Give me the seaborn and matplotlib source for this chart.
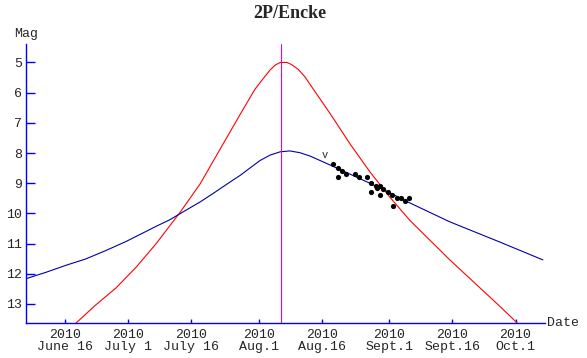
import numpy as np
import pandas as pd
import matplotlib
matplotlib.use('Agg')
import matplotlib.pyplot as plt
import seaborn as sns

# days counted from 2010 Aug 1, magnitudes
base = pd.Timestamp('2010-08-01')

blue_days = [-55.2, -50.5, -45.8, -41.1, -36.3, -31.5, -26.8, -24.4, -21.1, -18.7,
             -13.9, -10.4, -6.8, -4.4, -2.1, 0.3, 2.7, 5.1, 7.4, 9.8, 12.2, 14.6,
             17.0, 21.7, 26.4, 31.2, 34.8, 45.4, 57.3, 67.5]
blue_mag = [12.16, 11.95, 11.72, 11.51, 11.23, 10.93, 10.60, 10.43, 10.21, 10.01,
            9.62, 9.30, 8.96, 8.74, 8.50, 8.25, 8.07, 7.96, 7.93, 7.99, 8.10, 8.25,
            8.40, 8.70, 9.00, 9.32, 9.58, 10.28, 10.95, 11.54]

red_days = [-43.6, -38.6, -33.9, -29.1, -24.4, -18.7, -13.9, -9.2, -4.4, -0.9, 1.1,
            2.7, 3.9, 5.1, 6.7, 7.8, 9.4, 11.0, 13.0, 17.0, 21.7, 26.4, 31.2, 35.9,
            45.4, 57.3, 61.4]
red_mag = [13.66, 13.02, 12.47, 11.78, 11.01, 9.97, 9.02, 7.88, 6.72, 5.89, 5.53,
           5.25, 5.09, 5.00, 5.00, 5.07, 5.23, 5.48, 5.89, 6.70, 7.70, 8.62, 9.47, 10.23,
           11.54, 13.08, 13.63]

obs_days = [17.7, 18.8, 18.8, 19.7, 20.7, 22.9, 23.8, 25.7, 26.6, 26.6, 27.9, 28.0,
            28.8, 28.8, 29.6, 30.8, 31.7, 32.8, 33.7, 34.8, 35.7, 31.8]
obs_mag = [8.37, 8.48, 8.78, 8.58, 8.68, 8.68, 8.78, 8.78, 8.98, 9.28, 9.08, 9.17,
           9.08, 9.39, 9.18, 9.28, 9.38, 9.48, 9.48, 9.58, 9.48, 9.77]

v_day = 15.8
v_mag = 8.06
perihelion_day = 5.4

tick_dates = ['2010-06-16', '2010-07-01', '2010-07-16', '2010-08-01',
              '2010-08-16', '2010-09-01', '2010-09-16', '2010-10-01']
tick_labels = ['2010\nJune 16', '2010\nJuly 1', '2010\nJuly 16', '2010\nAug.1',
               '2010\nAug.16', '2010\nSept.1', '2010\nSept.16', '2010\nOct.1']
mag_ticks = [5, 6, 7, 8, 9, 10, 11, 12, 13]


def to_date(days):
    return base + pd.to_timedelta(np.asarray(days, dtype=float), unit='D')


sns.set_style('white')
plt.rcParams['font.family'] = ['Liberation Mono', 'DejaVu Sans Mono']

blue = pd.DataFrame({'date': to_date(blue_days), 'mag': blue_mag})
red = pd.DataFrame({'date': to_date(red_days), 'mag': red_mag})
obs = pd.DataFrame({'date': to_date(obs_days), 'mag': obs_mag})

fig = plt.figure(figsize=(5.87, 3.58), dpi=100)
ax = fig.add_axes([0.0448, 0.0978, 0.8836, 0.7792])

sns.lineplot(data=red, x='date', y='mag', ax=ax, color='#ff0000', lw=0.8, sort=False)
sns.lineplot(data=blue, x='date', y='mag', ax=ax, color='#0000aa', lw=0.8, sort=False)
sns.scatterplot(data=obs, x='date', y='mag', ax=ax, color='black', s=14,
                linewidth=0, zorder=5)
ax.axvline(base + pd.Timedelta(days=perihelion_day), color='#e000e0', lw=0.8)
ax.text(base + pd.Timedelta(days=v_day), v_mag, 'v', ha='center', va='center',
        fontsize=7.5)

ax.set_xlim(base + pd.Timedelta(days=-55.2), base + pd.Timedelta(days=68.0))
ax.set_ylim(13.63, 4.39)
ax.set_xticks(pd.to_datetime(tick_dates))
ax.set_xticklabels(tick_labels)
ax.set_yticks(mag_ticks)
ax.set_yticklabels([str(m) for m in mag_ticks])
for lbl in ax.get_xticklabels():
    lbl.set_linespacing(1.0)

for side in ['top', 'right']:
    ax.spines[side].set_visible(False)
for side in ['left', 'bottom']:
    ax.spines[side].set_color('#0000ff')
    ax.spines[side].set_linewidth(1.0)
ax.tick_params(axis='x', direction='in', length=3.2, width=1.0, color='#0000ff',
               labelsize=9.5, pad=4, bottom=True)
ax.tick_params(axis='y', direction='in', length=6.8, width=1.0, color='#0000ff',
               labelsize=9.5, pad=3, left=True)
ax.set_xlabel('')
ax.set_ylabel('')
ax.text(0.0, 1.036, 'Mag', transform=ax.transAxes, ha='center', va='center',
        fontsize=9.5)
ax.text(1.004, 0.0, 'Date', transform=ax.transAxes, ha='left', va='center',
        fontsize=9.5)
fig.text(0.494, 1 - 14 / 358, '2P/Encke', ha='center', va='center',
         family='Liberation Serif', weight='bold', fontsize=13)

fig.savefig('out.png', dpi=100)
